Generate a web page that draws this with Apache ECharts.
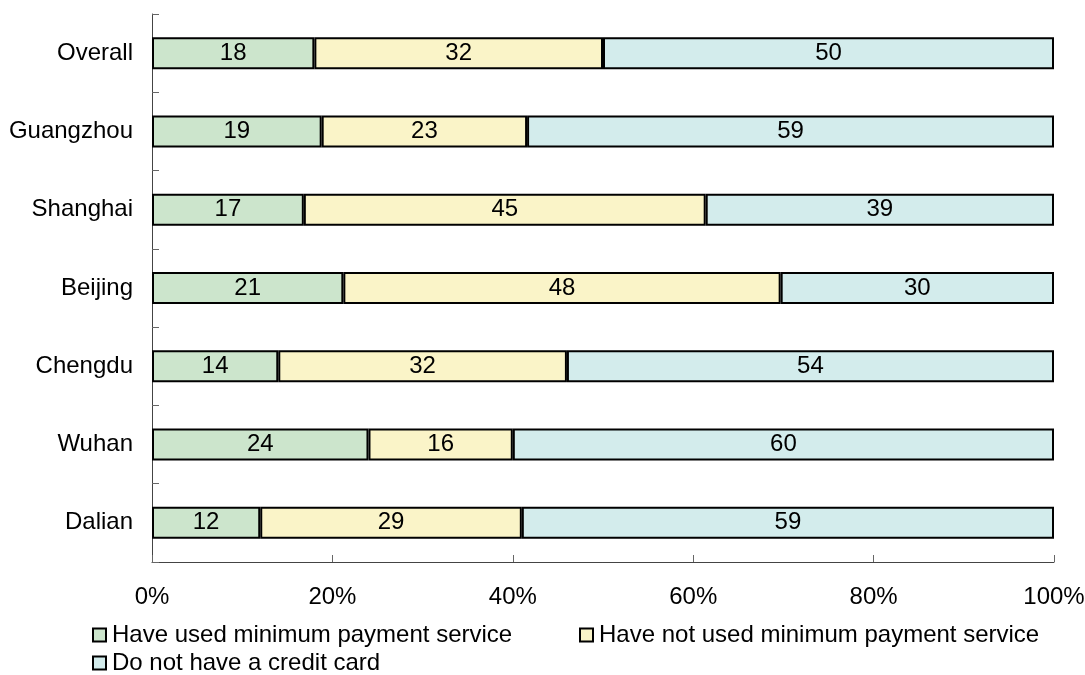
<!DOCTYPE html>
<html>
<head>
<meta charset="utf-8">
<script src="https://cdn.jsdelivr.net/npm/echarts@6/dist/echarts.min.js"></script>
<style>
  html, body { margin: 0; padding: 0; background: #fff; }
  #chart { width: 1085px; height: 675px; }
</style>
</head>
<body>
<div id="chart"></div>
<script>
// categories, top to bottom
const cities = ['Overall', 'Guangzhou', 'Shanghai', 'Beijing', 'Chengdu', 'Wuhan', 'Dalian'];
// raw survey numbers as printed on the bars
const usedMin = [18, 19, 17, 21, 14, 24, 12];
const notUsedMin = [32, 23, 45, 48, 32, 16, 29];
const noCard = [50, 59, 39, 30, 54, 60, 59];
const seriesNames = [
  'Have used minimum payment service',
  'Have not used minimum payment service',
  'Do not have a credit card'
];
const xTicks = [0, 20, 40, 60, 80, 100];

const colors = ['#cce5cc', '#faf4c8', '#d3ecec'];
const raw = [usedMin, notUsedMin, noCard];

// bars are stacked to 100% of each row
const totals = cities.map((c, i) => usedMin[i] + notUsedMin[i] + noCard[i]);
const toPct = arr => arr.map((v, i) => v / totals[i] * 100);

const FONT = 'Liberation Sans, Arial, sans-serif';
const FS = 24;

var chart = echarts.init(document.getElementById('chart'));

var series = raw.map(function (arr, k) {
  return {
    name: seriesNames[k],
    type: 'bar',
    stack: 'all',
    barWidth: 32,
    data: toPct(arr),
    itemStyle: { color: colors[k], borderColor: '#000', borderWidth: 2 },
    label: {
      show: true,
      position: 'inside',
      color: '#000',
      fontSize: FS,
      fontFamily: FONT,
      formatter: function (p) { return arr[p.dataIndex]; }
    }
  };
});

var legendBase = {
  orient: 'horizontal',
  icon: 'rect',
  itemWidth: 13,
  itemHeight: 13,
  itemStyle: { borderColor: '#000', borderWidth: 2 },
  textStyle: { fontSize: FS, color: '#000', fontFamily: FONT, padding: [0, 0, 0, 1] },
  selectedMode: false
};

chart.setOption({
  animation: false,
  textStyle: { fontFamily: FONT },
  grid: { left: 152, right: 31, top: 14, bottom: 113, outerBoundsMode: 'none', containLabel: false },
  legend: [
    Object.assign({}, legendBase, { data: [seriesNames[0]], left: 87, top: 618 }),
    Object.assign({}, legendBase, { data: [seriesNames[1]], left: 574, top: 618 }),
    Object.assign({}, legendBase, { data: [seriesNames[2]], left: 87, top: 646 })
  ],
  xAxis: {
    type: 'value',
    min: 0,
    max: 100,
    interval: 20,
    axisLine: { show: true, lineStyle: { color: '#444', width: 1 } },
    axisTick: { show: true, inside: true, length: 7, lineStyle: { color: '#666' } },
    splitLine: { show: false },
    axisLabel: {
      color: '#000',
      fontSize: FS,
      margin: 23,
      fontFamily: FONT,
      formatter: function (v) { return xTicks.indexOf(v) >= 0 ? v + '%' : ''; }
    }
  },
  yAxis: {
    type: 'category',
    inverse: true,
    data: cities,
    axisLine: { show: true, lineStyle: { color: '#444', width: 1 } },
    axisTick: { show: true, inside: true, length: 7, lineStyle: { color: '#666' } },
    axisLabel: { color: '#000', fontSize: FS, margin: 19, fontFamily: FONT }
  },
  series: series
});
</script>
</body>
</html>
